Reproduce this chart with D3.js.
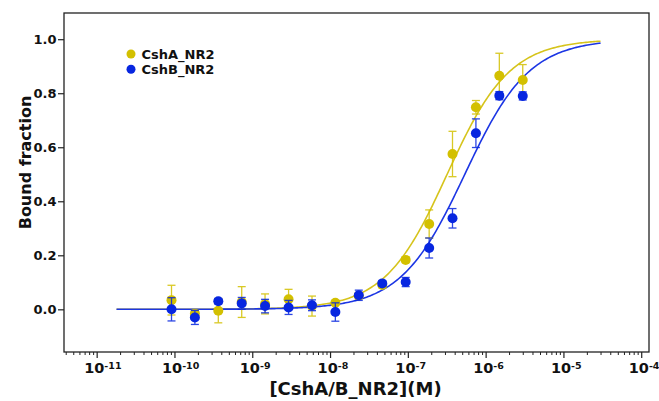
<!DOCTYPE html>
<html>
<head>
<meta charset="utf-8">
<script src="https://cdn.jsdelivr.net/npm/d3@7"></script>
<style>
  html, body { margin: 0; padding: 0; background: #fff; }
  svg { display: block; }
  svg text, svg tspan { font-family: "DejaVu Sans", Verdana, sans-serif; font-weight: 700; fill: #111; }
</style>
</head>
<body>
<svg id="chart" width="659" height="401"></svg>
<script>
// ---------- data ----------
const concentrations = [9.16e-11, 1.83e-10, 3.66e-10, 7.32e-10, 1.46e-9, 2.93e-9, 5.86e-9, 1.17e-8,
                        2.34e-8, 4.69e-8, 9.38e-8, 1.88e-7, 3.75e-7, 7.5e-7, 1.5e-6, 3.0e-6];
const cshA = [0.034, -0.016, -0.005, 0.027, 0.020, 0.037, 0.012, 0.024,
              0.050, 0.090, 0.183, 0.316, 0.575, 0.748, 0.865, 0.849];
const cshAErr = [0.055, 0.012, 0.045, 0.057, 0.037, 0.037, 0.037, 0.008,
                 0.010, 0.010, 0.010, 0.052, 0.084, 0.025, 0.083, 0.057];
const cshB = [0.000, -0.030, 0.030, 0.022, 0.012, 0.007, 0.015, -0.010,
              0.052, 0.096, 0.101, 0.227, 0.337, 0.652, 0.791, 0.790];
const cshBErr = [0.043, 0.026, 0.010, 0.022, 0.025, 0.026, 0.020, 0.034,
                 0.019, 0.010, 0.017, 0.037, 0.036, 0.053, 0.015, 0.015];
const seriesNames = ["CshA_NR2", "CshB_NR2"];
// Hill fit parameters (Kd in M, Hill coefficient) and fitted range
const fitKd = [3.2e-7, 5.4e-7];
const fitHill = [1.08, 1.05];
const fitRange = [1.8e-11, 3.0e-5];
const xMajorTicks = [1e-11, 1e-10, 1e-9, 1e-8, 1e-7, 1e-6, 1e-5, 1e-4];
const xTickExponents = ["-11", "-10", "-9", "-8", "-7", "-6", "-5", "-4"];
const yTicks = [0.0, 0.2, 0.4, 0.6, 0.8, 1.0];

// ---------- layout ----------
const colors = ["#d3c000", "#0726e0"];
const curveColors = ["#d6c41c", "#1c36e4"];
const svg = d3.select("#chart");
const L = 64, R = 649, T = 13, B = 352;

const x = d3.scaleLog().domain([Math.pow(10, -11.42), Math.pow(10, -3.90)]).range([L, R]);
const y = d3.scaleLinear().domain([-0.158, 1.097]).range([B, T]);

svg.append("rect").attr("width", 659).attr("height", 401).attr("fill", "#fff");

// x axis minor ticks
const minorTicks = [];
for (let e = -12; e <= -4; e++) {
  for (let m = 2; m <= 9; m++) {
    const v = m * Math.pow(10, e);
    if (v >= x.domain()[0] && v <= x.domain()[1]) minorTicks.push(v);
  }
}
const gxMinor = svg.append("g").attr("transform", `translate(0,${B})`)
  .call(d3.axisBottom(x).tickValues(minorTicks).tickSize(3).tickFormat(""));
gxMinor.select(".domain").remove();
gxMinor.selectAll("text").remove();
gxMinor.selectAll("line").attr("stroke", "#222").attr("stroke-width", 1);

const gx = svg.append("g").attr("transform", `translate(0,${B})`)
  .call(d3.axisBottom(x).tickValues(xMajorTicks).tickSize(6).tickFormat(""));
gx.select(".domain").remove();
gx.selectAll("text").remove();
gx.attr("font-size", null).attr("font-family", null);
gx.selectAll("line").attr("stroke", "#222").attr("stroke-width", 1.2);
gx.selectAll(".tick").each(function(d, i) {
  const t = d3.select(this).append("text")
    .attr("text-anchor", "start").attr("y", 21.3).attr("x", -13)
    .style("font-weight", "700");
  t.append("tspan").style("font-size", "14.5px").style("font-weight", "700").text("10");
  t.append("tspan").style("font-size", "9.5px").style("font-weight", "700").attr("dy", -4).text(xTickExponents[i]);
});

// y axis
const gy = svg.append("g").attr("transform", `translate(${L},0)`)
  .call(d3.axisLeft(y).tickValues(yTicks).tickSize(6).tickPadding(1.5).tickFormat(d3.format(".1f")));
gy.select(".domain").remove();
gy.selectAll("line").attr("stroke", "#222").attr("stroke-width", 1.2);
gy.selectAll("text").style("font-size", "13px");

// frame
svg.append("rect").attr("x", L).attr("y", T).attr("width", R - L).attr("height", B - T)
  .attr("fill", "none").attr("stroke", "#222").attr("stroke-width", 1.3);

// fitted curves
const curveX = d3.range(0, 301).map(i => Math.pow(10,
  Math.log10(fitRange[0]) + i / 300 * (Math.log10(fitRange[1]) - Math.log10(fitRange[0]))));
const line = d3.line().x(d => x(d[0])).y(d => y(d[1]));
[0, 1].forEach(s => {
  const pts = curveX.map(c => [c, Math.pow(c, fitHill[s]) / (Math.pow(fitKd[s], fitHill[s]) + Math.pow(c, fitHill[s]))]);
  svg.append("path").datum(pts).attr("d", line).attr("fill", "none")
    .attr("stroke", curveColors[s]).attr("stroke-width", 1.6);
});

// points with error bars
const allVals = [cshA, cshB];
const allErr = [cshAErr, cshBErr];
[0, 1].forEach(s => {
  const g = svg.append("g");
  const data = concentrations.map((c, i) => ({c, v: allVals[s][i], e: allErr[s][i]}));
  const eb = g.selectAll("g.eb").data(data).join("g").attr("stroke", colors[s]).attr("stroke-width", 1.3).attr("opacity", 0.85);
  eb.append("line").attr("x1", d => x(d.c)).attr("x2", d => x(d.c))
    .attr("y1", d => y(d.v - d.e)).attr("y2", d => y(d.v + d.e));
  eb.append("line").attr("x1", d => x(d.c) - 4).attr("x2", d => x(d.c) + 4)
    .attr("y1", d => y(d.v + d.e)).attr("y2", d => y(d.v + d.e));
  eb.append("line").attr("x1", d => x(d.c) - 4).attr("x2", d => x(d.c) + 4)
    .attr("y1", d => y(d.v - d.e)).attr("y2", d => y(d.v - d.e));
  g.selectAll("circle").data(data).join("circle")
    .attr("cx", d => x(d.c)).attr("cy", d => y(d.v)).attr("r", 5)
    .attr("fill", colors[s]);
});

// legend
seriesNames.forEach((name, i) => {
  svg.append("circle").attr("cx", 131).attr("cy", 54 + i * 15.3).attr("r", 4.5).attr("fill", colors[i]);
  svg.append("text").attr("x", 141.5).attr("y", 58.6 + i * 15.3)
    .style("font-size", "13px").text(name);
});

// axis titles
svg.append("text").attr("transform", "translate(31,162.5) rotate(-90)")
  .attr("text-anchor", "middle").style("font-size", "16px")
  .text("Bound fraction");
svg.append("text").attr("x", 355.5).attr("y", 395)
  .attr("text-anchor", "middle").style("font-size", "18px")
  .text("[CshA/B_NR2](M)");
</script>
</body>
</html>
